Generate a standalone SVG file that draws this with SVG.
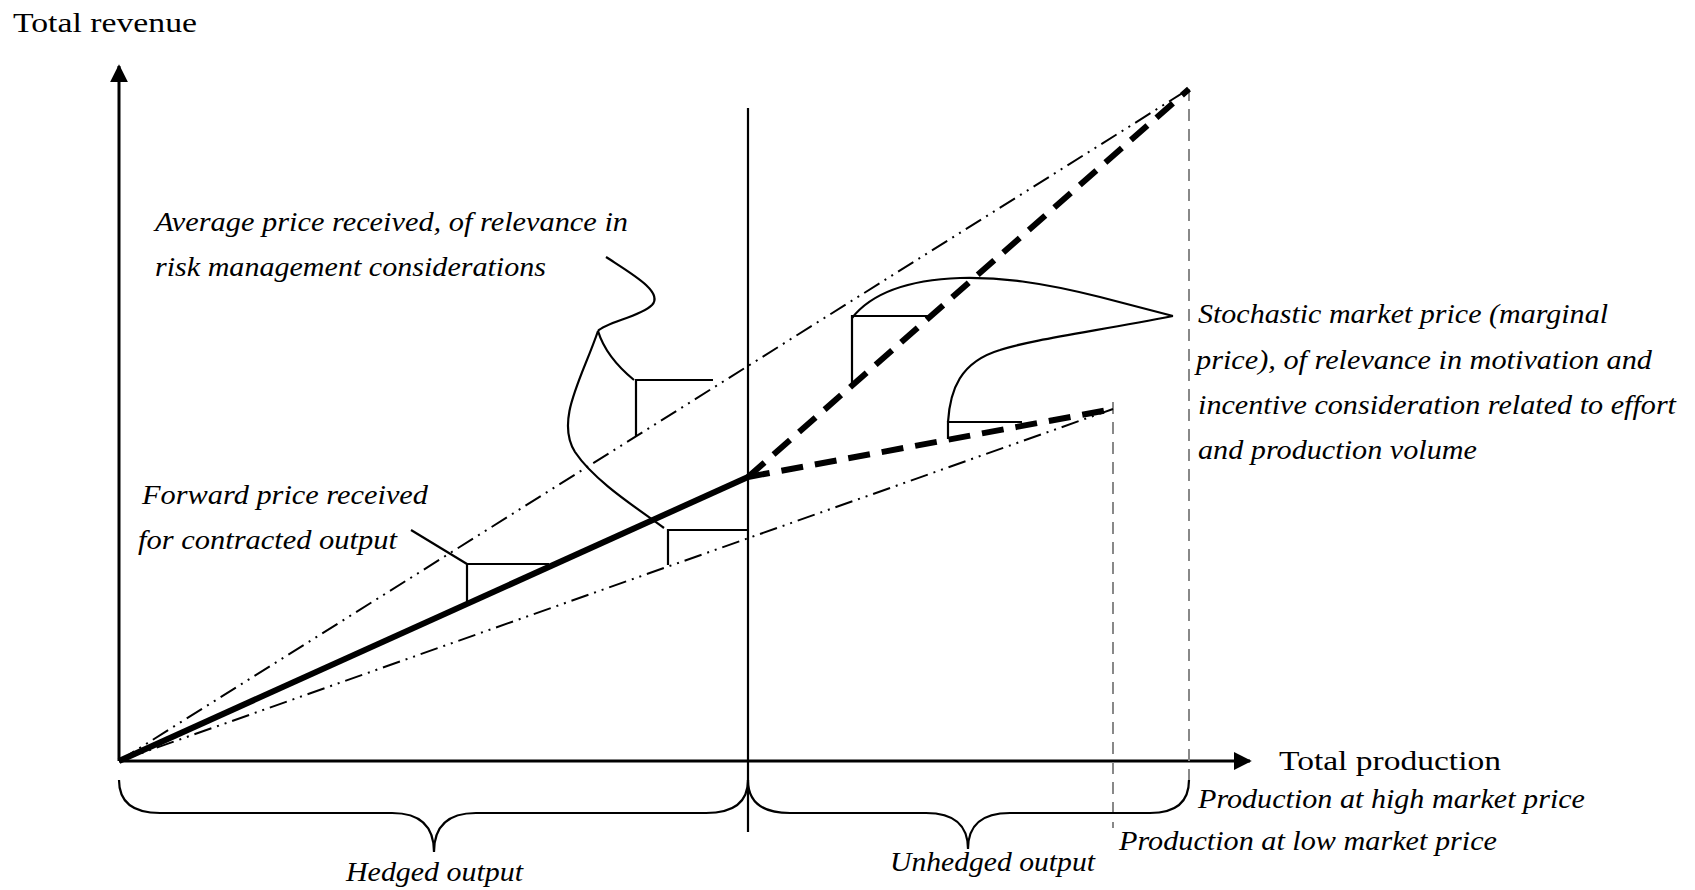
<svg xmlns="http://www.w3.org/2000/svg" width="1695" height="890" viewBox="0 0 1695 890">
<style>
.t{font-family:"Liberation Serif","Times New Roman",serif;font-size:27px;font-style:italic;fill:#000}
.a{font-family:"Liberation Serif","Times New Roman",serif;font-size:28px;fill:#000}
.ax{stroke:#000;stroke-width:3;fill:none}
.dd{stroke:#000;stroke-width:2;fill:none;stroke-dasharray:18 6 2 6 2 6}
.thick{stroke:#000;stroke-width:6;fill:none}
.thd{stroke:#000;stroke-width:6;fill:none;stroke-dasharray:22 12}
.gray{stroke:#888;stroke-width:2;fill:none;stroke-dasharray:12 8}
.thin{stroke:#000;stroke-width:2.2;fill:none}
</style>
<defs>
<marker id="arr" viewBox="0 0 10 10" refX="9" refY="5" markerWidth="6" markerHeight="6" markerUnits="strokeWidth" orient="auto">
<path d="M0,0 L10,5 L0,10 z" fill="#000"/>
</marker>
</defs>
<rect width="1695" height="890" fill="#fff"/>
<g id="connectors">
<line class="ax" x1="119" y1="761" x2="119" y2="66" marker-end="url(#arr)"/>
<line class="ax" x1="119" y1="761" x2="1250" y2="761" marker-end="url(#arr)"/>
<line class="thin" x1="748" y1="108" x2="748" y2="832"/>
<line class="gray" x1="1189" y1="89" x2="1189" y2="788"/>
<line class="gray" x1="1113" y1="402" x2="1113" y2="828"/>
<line class="dd" x1="119" y1="761" x2="1189" y2="89"/>
<line class="dd" x1="119" y1="761" x2="1113" y2="409"/>
<line class="thick" x1="119" y1="761" x2="748" y2="477"/>
<line class="thd" x1="748" y1="477" x2="1189" y2="89"/>
<line class="thd" x1="748" y1="477" x2="1113" y2="409"/>
<path class="thin" d="M119,780 Q119,813 160,813 L392,813 Q434,813 434,852 Q434,813 476,813 L706,813 Q748,813 748,780"/>
<path class="thin" d="M748,780 Q748,813 790,813 L926,813 Q968,813 968,849 Q968,813 1010,813 L1150,813 Q1189,813 1189,780"/>
<path class="thin" d="M606,257 C632,274 664,292 652,305 C640,317 606,322 598,331"/>
<path class="thin" d="M598,331 Q606,357 634,380"/>
<path class="thin" d="M598,331 C582,378 555,420 575,452 C595,482 640,510 664,528"/>
<path class="thin" d="M636,436 L636,380 L713,380"/>
<path class="thin" d="M668,565 L668,530 L748,530"/>
<path class="thin" d="M411,530 L467,564"/>
<path class="thin" d="M467,603 L467,564 L549,564"/>
<path class="thin" d="M1173,316 L1100,297 C1040,282 1000,277 960,278 C905,280 870,295 852,318"/>
<path class="thin" d="M852,385 L852,316 L932,316"/>
<path class="thin" d="M1173,316 C1090,332 1030,340 1000,350 C960,362 950,390 948,422"/>
<path class="thin" d="M948,439 L948,422 L1022,422"/>
</g>
<g id="axis-labels">
<text class="a" x="13" y="32" textLength="184" lengthAdjust="spacingAndGlyphs">Total revenue</text>
<text class="a" x="1279" y="770" textLength="222" lengthAdjust="spacingAndGlyphs">Total production</text>
</g>
<g id="average-label">
<text class="t" x="155" y="231" textLength="473" lengthAdjust="spacingAndGlyphs">Average price received, of relevance in</text>
<text class="t" x="155" y="276" textLength="391" lengthAdjust="spacingAndGlyphs">risk management considerations</text>
</g>
<g id="forward-label">
<text class="t" x="142" y="504" textLength="286" lengthAdjust="spacingAndGlyphs">Forward price received</text>
<text class="t" x="138" y="549" textLength="259" lengthAdjust="spacingAndGlyphs">for contracted output</text>
</g>
<g id="stochastic-label">
<text class="t" x="1198" y="323" textLength="410" lengthAdjust="spacingAndGlyphs">Stochastic market price (marginal</text>
<text class="t" x="1196" y="369" textLength="456" lengthAdjust="spacingAndGlyphs">price), of relevance in motivation and</text>
<text class="t" x="1198" y="414" textLength="478" lengthAdjust="spacingAndGlyphs">incentive consideration related to effort</text>
<text class="t" x="1198" y="459" textLength="279" lengthAdjust="spacingAndGlyphs">and production volume</text>
</g>
<g id="brace-labels">
<text class="t" x="346" y="881" textLength="177" lengthAdjust="spacingAndGlyphs">Hedged output</text>
<text class="t" x="890" y="871" textLength="205" lengthAdjust="spacingAndGlyphs">Unhedged output</text>
<text class="t" x="1198" y="808" textLength="387" lengthAdjust="spacingAndGlyphs">Production at high market price</text>
<text class="t" x="1119" y="850" textLength="378" lengthAdjust="spacingAndGlyphs">Production at low market price</text>
</g>
</svg>
